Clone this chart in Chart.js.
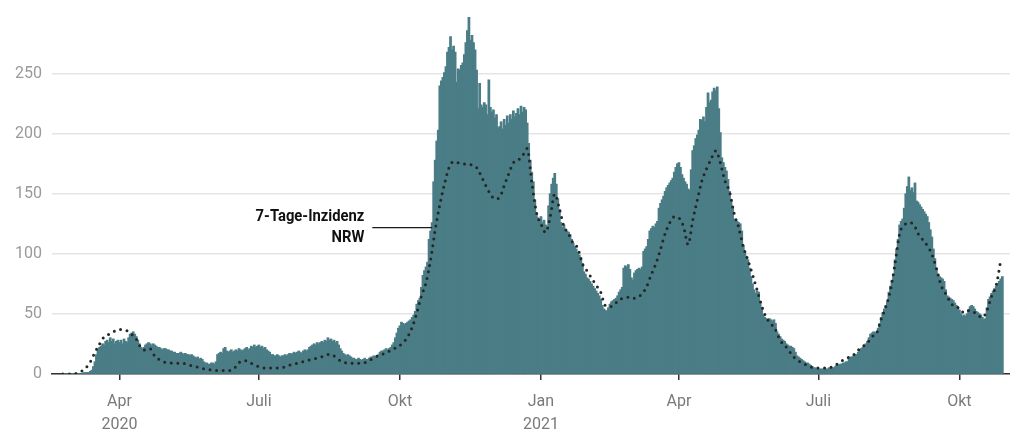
<!DOCTYPE html>
<html lang="de">
<head>
<meta charset="utf-8">
<title>7-Tage-Inzidenz NRW</title>
<script src="https://cdn.jsdelivr.net/npm/chart.js@4.4.1/dist/chart.umd.min.js"></script>
<style>
    html, body { margin: 0; padding: 0; background: #fff; }
    #chart { display: block; }
</style>
</head>
<body>
<canvas id="chart" width="1010" height="429"></canvas>
<script>
// Tageswerte ab 24.02.2020, ein Wert pro Tag
const startDate = '2020-02-24';

const bars2020 = [
    0, 0, 0, 0, 0, 0,
    0, 0, 0, 0, 0, 0, 0, 0, 1, 1, 1, 1, 2, 3, 6, 10, 16, 20, 22, 23, 25, 24, 27, 28, 26, 30, 27, 29, 25, 27, 28,
    26, 28, 25, 29, 27, 26, 30, 33, 34, 35, 33, 31, 28, 25, 22, 21, 22, 24, 25, 26, 25, 24, 25, 24, 23, 22, 22, 21, 20, 21,
    21, 20, 20, 19, 19, 18, 18, 17, 17, 17, 18, 17, 16, 17, 16, 16, 15, 16, 15, 14, 13, 14, 12, 13, 12, 10, 9, 9, 8, 8, 9,
    9, 8, 10, 16, 17, 18, 17, 21, 22, 19, 18, 19, 20, 18, 19, 20, 19, 21, 20, 19, 20, 21, 22, 20, 21, 23, 22, 24, 22, 23,
    24, 22, 23, 21, 22, 20, 19, 18, 16, 16, 15, 15, 16, 15, 14, 15, 15, 16, 15, 16, 17, 16, 17, 18, 17, 18, 19, 18, 17, 19, 20,
    19, 20, 22, 23, 24, 25, 24, 26, 25, 26, 27, 26, 28, 27, 30, 28, 29, 27, 28, 26, 27, 24, 21, 19, 17, 16, 15, 16, 15, 14, 13,
    13, 12, 12, 13, 12, 11, 12, 13, 12, 12, 13, 14, 14, 15, 14, 15, 16, 18, 19, 19, 20, 21, 20, 21, 22, 24, 26, 30, 34, 38,
    40, 43, 42, 41, 42, 43, 44, 45, 47, 49, 52, 58, 61, 63, 72, 82, 86, 89, 93, 112, 119, 126, 160, 178, 194, 203, 240, 244, 247, 251, 256,
    268, 272, 281, 270, 273, 268, 243, 254, 253, 257, 259, 266, 276, 286, 297, 278, 282, 276, 270, 253, 221, 242, 224, 222, 226, 224, 216, 245, 222, 218,
    220, 213, 216, 205, 206, 210, 204, 212, 207, 215, 209, 216, 212, 219, 214, 217, 221, 216, 223, 218, 222, 220, 209, 192, 178, 168, 160, 145, 134, 130, 128
];

const bars2021 = [
    131, 126, 128, 124, 122, 140, 150, 158, 163, 167, 158, 146, 137, 126, 122, 124, 120, 119, 118, 116, 112, 109, 106, 104, 101, 99, 97, 92, 85, 83, 80,
    79, 77, 75, 73, 71, 69, 67, 65, 62, 57, 54, 53, 52, 55, 58, 60, 61, 62, 63, 65, 68, 70, 72, 88, 90, 89, 91, 87,
    80, 78, 84, 86, 87, 88, 87, 89, 102, 104, 106, 112, 119, 121, 123, 122, 125, 127, 138, 142, 145, 148, 152, 155, 157, 159, 161, 163, 168, 172, 175,
    176, 172, 166, 163, 160, 158, 154, 153, 170, 186, 190, 196, 199, 203, 212, 211, 214, 210, 222, 234, 226, 228, 235, 238, 236, 239, 221, 201, 180, 176,
    172, 169, 162, 152, 145, 139, 129, 128, 127, 126, 125, 119, 107, 101, 98, 95, 88, 81, 75, 70, 67, 69, 68, 60, 55, 49, 47, 46, 45, 46, 45,
    44, 45, 42, 35, 33, 31, 29, 28, 27, 25, 24, 23, 23, 22, 21, 18, 15, 14, 13, 12, 11, 10, 9, 9, 8, 7, 6, 5, 5, 4,
    4, 4, 4, 4, 4, 4, 4, 5, 5, 5, 5, 6, 7, 7, 8, 8, 9, 9, 10, 10, 12, 14, 14, 15, 16, 16, 18, 20, 21, 22, 24,
    25, 27, 30, 33, 34, 35, 34, 35, 38, 42, 47, 51, 54, 57, 60, 68, 73, 78, 82, 95, 104, 112, 124, 127, 129, 138, 150, 156, 164, 153, 155,
    151, 159, 144, 143, 141, 139, 137, 135, 133, 131, 126, 120, 114, 104, 96, 88, 83, 81, 80, 79, 77, 70, 65, 64, 63, 62, 61, 59, 57, 55,
    53, 50, 48, 49, 48, 50, 53, 56, 57, 56, 54, 52, 51, 50, 49, 47, 45, 46, 55, 62, 64, 67, 69, 71, 73, 75, 77, 79, 81
];

// gepunktete Linie: alle 3 Tage ab startDate
const lineStep = 3;
const lineValues = [
    0, 0, 0, 0.5, 2, 5, 10, 18, 25, 31,
    33, 35, 37, 37, 36, 33, 29, 22, 20, 21,
    15, 12, 10, 9.5, 9, 9, 9, 8, 7, 6,
    5, 4, 3.5, 3, 3, 3, 3, 3.5, 8, 11,
    11, 9, 7, 6, 5, 5, 5, 5, 5.5, 7,
    8, 9, 10, 11, 12, 13, 14, 15, 16.5, 15,
    12, 10, 9, 9, 9, 9, 10, 12, 14, 16,
    17, 19, 21, 23, 26, 31, 39, 51, 65, 76,
    95, 120, 141, 158, 172, 177, 176, 175, 175, 174,
    172, 165, 157, 150, 146, 147, 157, 167, 176, 178,
    182, 188, 160, 135, 125, 118, 131, 150, 138, 123,
    117, 109, 105, 92, 86, 80, 74, 68, 57, 56,
    58, 62, 63, 64, 63, 64, 67, 73, 83, 92,
    104, 117, 126, 131, 130, 123, 108, 128, 145, 161,
    171, 179, 186, 176, 161, 152, 134, 122, 106, 95,
    83, 70, 57, 47, 42, 37, 28, 24, 19, 14,
    11, 9, 7, 5.5, 5, 5, 5, 5.5, 7, 10,
    12, 14, 16, 20, 23, 26, 31, 34, 46, 56,
    70, 92, 117, 124, 126, 125, 117, 112, 107, 100,
    88, 74, 67, 60, 56, 55, 51, 53, 52, 49,
    47, 53, 65, 74, 95
];

const tickDates = ['2020-04-01', '2020-07-01', '2020-10-01', '2021-01-01', '2021-04-01', '2021-07-01', '2021-10-01'];
const tickLabels = ['Apr', 'Juli', 'Okt', 'Jan', 'Apr', 'Juli', 'Okt'];
const tickYears = ['2020', '', '', '2021', '', '', ''];
const yTicks = [0, 50, 100, 150, 200, 250];

const axisFrom = '2020-02-17';
const axisTo = '2021-11-03';

const annoLines = ['7-Tage-Inzidenz', 'NRW'];
const annoFrom = '2020-09-13';
const annoTo = '2020-10-22';
const annoValue = 122;

function dayIndex(dateStr) {
    const ms = Date.parse(dateStr + 'T00:00:00Z') - Date.parse(startDate + 'T00:00:00Z');
    return Math.round(ms / 86400000);
}

const barValues = bars2020.concat(bars2021);
const barData = barValues.map((v, i) => ({ x: i, y: v }));
const lineData = lineValues.map((v, k) => ({ x: k * lineStep, y: v }));
const tickDays = tickDates.map(dayIndex);

const fontFamily = 'Roboto, "Noto Sans", sans-serif';

const annoPlugin = {
    id: 'anno',
    afterDraw(chart) {
        const { ctx } = chart;
        const xs = chart.scales.x, ys = chart.scales.y;
        const x1 = xs.getPixelForValue(dayIndex(annoFrom));
        const x2 = xs.getPixelForValue(dayIndex(annoTo));
        const yy = ys.getPixelForValue(annoValue);
        ctx.save();
        ctx.strokeStyle = '#1a1a1a';
        ctx.lineWidth = 1.3;
        ctx.beginPath();
        ctx.moveTo(x1, yy);
        ctx.lineTo(x2, yy);
        ctx.stroke();
        ctx.fillStyle = '#111';
        ctx.textAlign = 'right';
        ctx.textBaseline = 'middle';
        ctx.font = 'bold 17px ' + fontFamily;
        const offsets = [-11, 10];
        annoLines.forEach((t, i) => {
            ctx.save();
            ctx.translate(x1 - 8, yy + offsets[i]);
            ctx.scale(0.87, 1);
            ctx.fillText(t, 0, 0);
            ctx.restore();
        });
        ctx.restore();
    }
};

new Chart(document.getElementById('chart').getContext('2d'), {
    type: 'bar',
    data: {
        datasets: [
            {
                type: 'line',
                data: lineData,
                borderColor: '#262626',
                borderWidth: 3,
                borderDash: [0, 6.6],
                borderCapStyle: 'round',
                pointRadius: 0,
                cubicInterpolationMode: 'monotone',
                fill: false,
                order: 0
            },
            {
                data: barData,
                backgroundColor: '#4a7d86',
                borderWidth: 0,
                barPercentage: 1,
                categoryPercentage: 1,
                inflateAmount: 0.6,
                order: 1
            }
        ]
    },
    options: {
        responsive: false,
        animation: false,
        layout: { padding: { top: 14, left: 0, right: 0, bottom: 0 } },
        plugins: {
            legend: { display: false },
            tooltip: { enabled: false }
        },
        scales: {
            x: {
                type: 'linear',
                min: dayIndex(axisFrom),
                max: dayIndex(axisTo),
                offset: false,
                z: 1,
                border: { display: true, color: '#333', width: 1.5 },
                grid: { offset: false, drawOnChartArea: false, drawTicks: true, tickLength: 6, color: '#333', lineWidth: 1.5 },
                afterBuildTicks: axis => { axis.ticks = tickDays.map(v => ({ value: v })); },
                afterFit: s => { s.height = 55; s.paddingLeft = 0; s.paddingRight = 0; },
                ticks: {
                    autoSkip: false,
                    maxRotation: 0,
                    color: '#7a7a7a',
                    padding: 11,
                    font: { family: fontFamily, size: 16, lineHeight: 1.4 },
                    callback: v => {
                        const i = tickDays.indexOf(v);
                        if (i < 0) return '';
                        return tickYears[i] ? [tickLabels[i], tickYears[i]] : tickLabels[i];
                    }
                }
            },
            y: {
                min: 0,
                max: 300,
                z: 1,
                border: { display: false },
                grid: { color: 'rgba(0,0,0,0.1)', lineWidth: 1.5, drawTicks: false },
                afterBuildTicks: axis => { axis.ticks = yTicks.map(v => ({ value: v })); },
                afterFit: s => { s.width = 52; s.paddingTop = 0; s.paddingBottom = 0; },
                ticks: {
                    color: '#9a9a9a',
                    padding: 10,
                    font: { family: fontFamily, size: 16 }
                }
            }
        }
    },
    plugins: [annoPlugin]
});
</script>
</body>
</html>
